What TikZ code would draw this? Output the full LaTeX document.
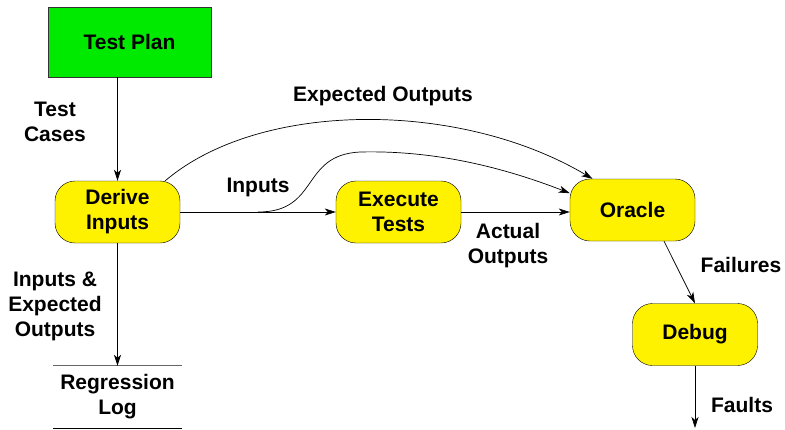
\documentclass[tikz,border=0pt]{standalone}
\usepackage{fontspec}
\setmainfont{Liberation Sans}
\usetikzlibrary{arrows.meta}
\begin{document}
\begin{tikzpicture}[x=1pt,y=-1pt,
	proc/.style = {draw, fill=yellow, rounded corners=20pt, minimum width=125pt, minimum height=62pt, align=center, font=\bfseries},
	planbox/.style = {draw=black!80, fill=testgreen, minimum width=163pt, minimum height=70pt, font=\bfseries},
	lbl/.style = {align=center, font=\bfseries},
	flow/.style = {-{Stealth[length=11pt,width=7pt,inset=3pt]}, line width=0.7pt}]
	\definecolor{testgreen}{RGB}{0,234,0}
	\fontsize{21}{25}\selectfont
	\useasboundingbox (0,0) rectangle (785,429);
	\node[planbox] (plan) at (129.5,42) {Test Plan};
	\node[proc] (derive) at (117.5,212) {Derive\\Inputs};
	\node[proc] (exec) at (398.5,212) {Execute\\Tests};
	\node[proc] (oracle) at (632.5,210) {Oracle};
	\node[proc] (debug) at (695,334.5) {Debug};
	\node[lbl, minimum width=125pt, minimum height=62pt] (reglog) at (117.5,397) {Regression\\Log};
	\draw[black!60, line width=0.8pt] (reglog.north west) -- (reglog.north east);
	\draw[line width=0.8pt] (reglog.south west) -- (reglog.south east);
	\coordinate (split) at (258,212);
	\coordinate (faultsend) at (695,428);
	\draw[flow] (derive.north |- plan.south) -- (derive.north);
	\draw[flow] (derive.east) -- (exec.west);
	\draw[flow] (exec.east) -- (exec.east -| oracle.west);
	\draw[flow] ([xshift=-15pt]derive.north east) .. controls (260,100) and (460,100) .. ([xshift=-40pt]oracle.north);
	\draw[flow] (split) .. controls (320,212) and (300,155) .. (360,152) .. controls (440,150) and (510,170) .. (oracle.165);
	\draw[flow] (derive.south) -- (reglog.north);
	\draw[flow] ([xshift=31.5pt]oracle.south) -- (debug.north);
	\draw[flow] (debug.south) -- (faultsend);
	\node[lbl] at (55,122) {Test\\Cases};
	\node[lbl] at (258,187) {Inputs};
	\node[lbl] at (383,96) {Expected Outputs};
	\node[lbl] at (508,246) {Actual\\Outputs};
	\node[lbl] at (741,265) {Failures};
	\node[lbl] at (742,405) {Faults};
	\node[lbl] at (55,306) {Inputs \&\\Expected\\Outputs};
\end{tikzpicture}
\end{document}
